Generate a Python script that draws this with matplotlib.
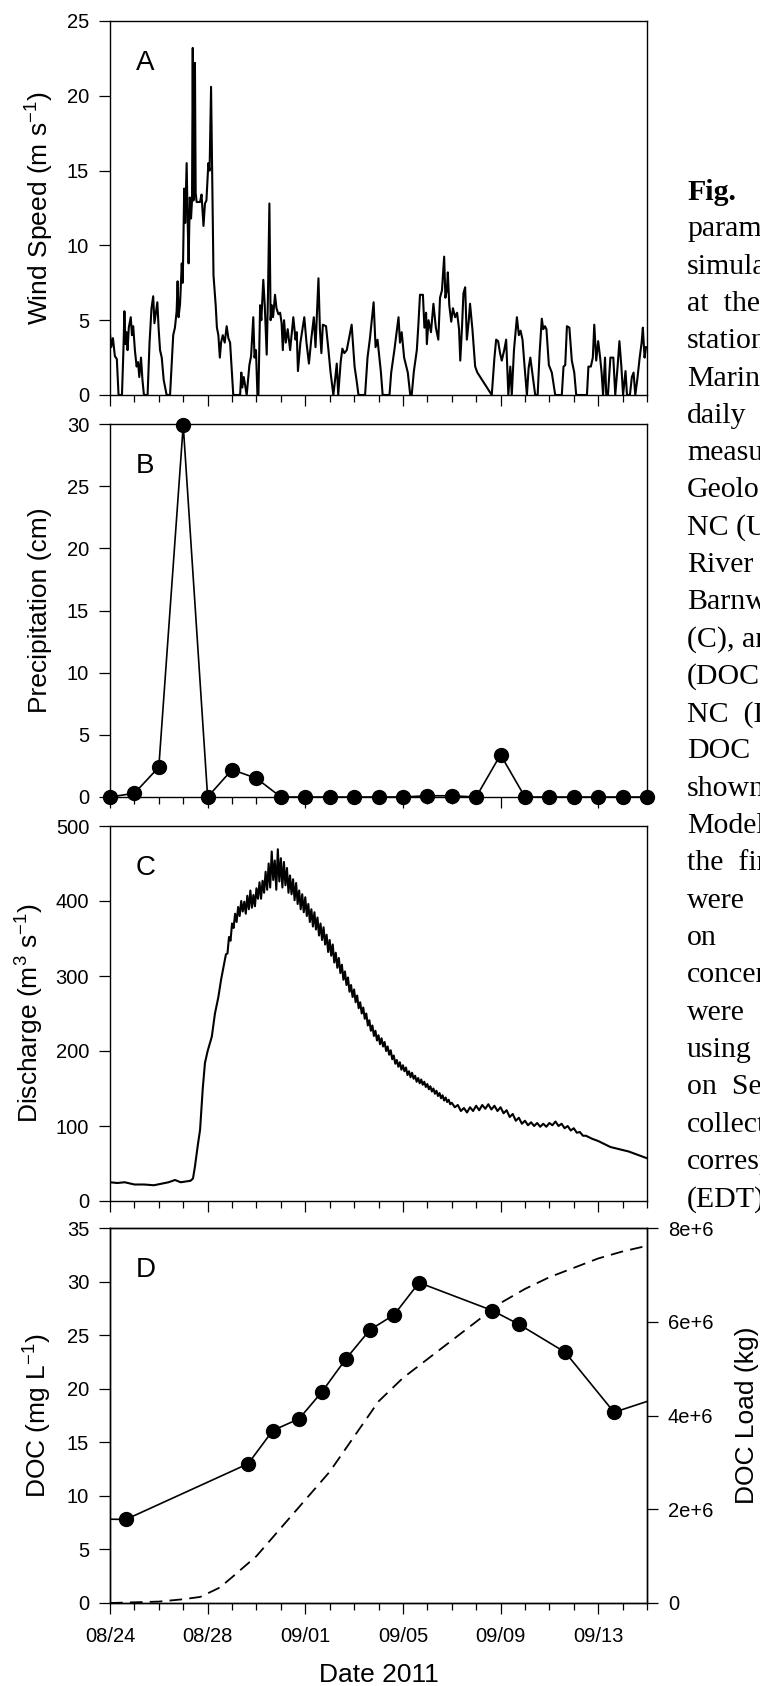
import matplotlib
matplotlib.use("Agg")
import matplotlib.pyplot as plt
import numpy as np
from matplotlib.ticker import MultipleLocator

plt.rcParams['font.family'] = ['Liberation Sans', 'DejaVu Sans']
plt.rcParams['mathtext.default'] = 'regular'

# x axis is days since 08/24/2011 00:00
date_ticks = [0, 4, 8, 12, 16, 20]
date_labels = ['08/24', '08/28', '09/01', '09/05', '09/09', '09/13']

# A - wind speed (m/s)
wind_day = [0.0, 0.05, 0.12, 0.2, 0.28, 0.35, 0.49, 0.55, 0.59, 0.63, 0.68, 0.72, 0.77, 0.85, 0.9, 0.95,
            1.02, 1.09, 1.15, 1.2, 1.27, 1.33, 1.39, 1.54, 1.62, 1.7, 1.77, 1.82, 1.87, 1.94, 1.99,
            2.05, 2.12, 2.2, 2.32, 2.46, 2.59, 2.66, 2.73, 2.77, 2.81, 2.87, 2.94, 2.98,
            3.04, 3.08, 3.14, 3.18, 3.22, 3.27, 3.32, 3.36, 3.39, 3.42, 3.45, 3.48, 3.51, 3.55, 3.69,
            3.75, 3.83, 3.89, 3.95, 4.03, 4.08, 4.14, 4.19, 4.24, 4.33, 4.38, 4.44, 4.5, 4.55, 4.62,
            4.7, 4.78, 4.85, 4.92, 5.05, 5.33, 5.38, 5.42, 5.48, 5.6, 5.71, 5.78, 5.87, 5.92, 5.98,
            6.04, 6.08, 6.15, 6.2, 6.28, 6.34, 6.42, 6.47, 6.53, 6.58, 6.63, 6.68, 6.76, 6.82, 6.9,
            6.97, 7.03, 7.08, 7.13, 7.2, 7.28, 7.38, 7.51, 7.6, 7.65, 7.7, 7.8, 7.96, 8.05, 8.15,
            8.25, 8.35, 8.42, 8.54, 8.6, 8.66, 8.72, 8.85, 8.95, 9.03, 9.15, 9.22, 9.29, 9.35, 9.45,
            9.52, 9.6, 9.7, 9.9, 10.02, 10.1, 10.18, 10.45, 10.55, 10.65, 10.8, 10.88, 10.96, 11.1,
            11.17, 11.45, 11.52, 11.65, 11.82, 11.88, 11.95, 12.05, 12.2, 12.3, 12.36, 12.45, 12.57,
            12.63, 12.7, 12.82, 12.88, 12.95, 12.98, 13.05, 13.15, 13.25, 13.35, 13.45, 13.52, 13.6,
            13.69, 13.74, 13.8, 13.84, 13.9, 13.98, 14.05, 14.14, 14.22, 14.3, 14.35, 14.42, 14.48,
            14.55, 14.62, 14.7, 14.75, 14.85, 14.96, 15.05, 15.64, 15.75, 15.82, 15.9, 15.98, 16.05,
            16.15, 16.23, 16.32, 16.4, 16.46, 16.55, 16.67, 16.75, 16.82, 16.9, 16.98, 17.08, 17.15,
            17.22, 17.3, 17.42, 17.52, 17.6, 17.69, 17.75, 17.82, 17.88, 17.98, 18.1, 18.24, 18.51,
            18.58, 18.65, 18.72, 18.82, 18.92, 19.02, 19.1, 19.54, 19.6, 19.7, 19.78, 19.84, 19.92,
            20.0, 20.08, 20.14, 20.2, 20.28, 20.33, 20.4, 20.5, 20.62, 20.7, 20.8, 20.87, 20.95,
            21.02, 21.12, 21.18, 21.3, 21.38, 21.45, 21.52, 21.6, 21.7, 21.78, 21.83, 21.9, 21.96]
wind_speed = [4.1, 3.2, 3.8, 2.6, 2.4, 0.0, 0.0, 3.0, 5.6, 3.4, 4.2, 3.0, 4.5, 5.2, 4.0, 4.6,
              3.0, 1.9, 2.2, 1.2, 2.5, 1.0, 0.0, 0.0, 3.5, 5.8, 6.6, 4.8, 5.4, 6.2, 4.5,
              3.0, 2.5, 1.0, 0.0, 0.0, 4.0, 4.5, 5.6, 7.6, 5.2, 6.1, 8.8, 7.5,
              13.8, 11.5, 15.5, 11.8, 8.8, 13.2, 11.8, 13.0, 23.2, 13.0, 14.0, 22.2, 13.5, 12.9, 12.9,
              13.4, 11.3, 12.8, 13.0, 15.5, 15.0, 20.6, 14.0, 8.0, 6.0, 4.5, 4.0, 2.5, 3.5, 4.0,
              3.5, 4.6, 3.8, 3.5, 0.0, 0.0, 1.5, 0.5, 1.2, 0.0, 2.0, 2.6, 5.2, 2.5, 3.0,
              0.0, 0.0, 6.0, 5.0, 7.7, 6.0, 2.7, 6.5, 12.8, 5.0, 6.0, 5.2, 6.7, 5.8, 5.4,
              5.5, 4.8, 3.0, 5.0, 3.5, 4.4, 3.0, 5.2, 3.7, 4.2, 1.6, 3.5, 5.2, 3.5, 2.1,
              3.8, 5.2, 3.2, 7.8, 4.4, 2.8, 4.7, 4.6, 3.0, 1.6, 0.0, 1.0, 2.1, 0.0, 2.2,
              3.1, 2.8, 3.0, 4.7, 1.9, 1.0, 0.0, 0.0, 2.5, 3.8, 6.2, 3.2, 3.7, 1.5,
              0.0, 0.0, 1.5, 3.0, 5.2, 3.5, 4.2, 2.5, 1.5, 0.0, 0.0, 1.6, 3.0,
              4.6, 6.7, 6.7, 4.5, 5.5, 3.4, 5.0, 4.2, 6.1, 4.5, 3.7, 6.5, 7.0,
              9.25, 6.5, 7.0, 8.2, 6.0, 4.9, 5.8, 5.2, 5.5, 4.4, 2.3, 4.5, 6.8,
              7.2, 3.7, 5.0, 6.1, 4.35, 1.9, 1.5, 0.0, 2.5, 3.7, 3.6, 2.8, 2.3,
              3.0, 3.7, 0.0, 1.9, 0.0, 3.0, 5.2, 4.0, 4.3, 3.7, 2.0, 0.0, 1.8,
              2.5, 1.5, 0.0, 0.0, 2.8, 5.1, 4.4, 4.6, 4.4, 2.0, 1.5, 0.0, 0.0,
              1.9, 2.0, 4.6, 4.5, 2.3, 1.5, 0.0, 0.0, 1.9, 1.9, 2.5, 4.7, 2.3,
              3.6, 2.5, 1.5, 0.0, 2.5, 0.0, 0.0, 2.5, 2.5, 0.0, 2.0, 3.6, 1.9,
              0.0, 1.6, 0.0, 0.0, 1.2, 1.5, 0.0, 1.0, 2.5, 3.5, 4.5, 2.5, 3.2]

# B - daily precipitation (cm)
precip_day = list(range(23))
precip_cm = [0, 0.3, 2.4, 29.9, 0, 2.2, 1.5, 0, 0, 0, 0, 0, 0, 0.1, 0.1, 0, 3.4,
             0, 0, 0, 0, 0, 0]

# C - discharge (m3/s): baseflow + rising limb, noisy record (90 min / 3 h), smooth tail
q_rise_day = [0, 0.3, 0.6, 1.0, 1.4, 1.8, 2.1, 2.4, 2.66, 2.9, 3.1, 3.3, 3.4, 3.48, 3.6, 3.69,
              3.8, 3.89, 4.0, 4.17, 4.3, 4.44, 4.55, 4.65]
q_rise = [25, 24, 25, 22, 22, 21, 23, 25, 28, 25, 26, 27, 30, 46, 75, 95,
          150, 184, 200, 219, 250, 272, 295, 312]
q_fast_start, q_fast_step = 4.75, 0.0625
q_fast = [329, 330, 352, 347, 370, 364, 383, 372, 392, 380, 400, 386, 399, 383, 407, 389,
          414, 391, 408, 393, 417, 403, 425, 403, 427, 411, 439, 415, 450, 418, 466, 428,
          454, 415, 469, 426, 457, 418, 452, 421, 444, 411, 434, 409, 429, 401, 424, 396,
          414, 389, 409, 385, 405, 380, 396, 372, 389, 366, 385, 362, 378, 354, 370, 348,
          365, 342, 355, 332, 348, 327, 342, 318, 331, 311, 324, 304, 315, 295, 306, 288,
          298, 279, 288, 272, 282, 265, 274, 257, 265, 250, 258, 243, 250, 234, 241, 227,
          234, 220, 227, 214, 221, 209, 217, 206, 212, 200, 206, 195, 201, 189, 194, 183,
          188, 179, 185, 175, 181, 173, 178, 168, 173, 165, 171, 163, 167, 159, 164, 157,
          162, 155, 159, 152, 156, 149, 153, 146, 150, 143, 147, 140, 144, 137, 141, 134,
          138, 132, 135, 129, 131]
q_slow_start, q_slow_step = 14.125, 0.125
q_slow = [125, 128, 120, 124, 118, 125, 120, 127, 121, 128, 123, 129, 122, 127, 120, 125,
          117, 121, 112, 116, 107, 111, 103, 107, 101, 105, 100, 104, 99, 103, 99, 104,
          101, 106, 100, 103, 97, 100, 94, 97, 91, 92, 87, 87]
q_tail_day = [19.75, 20.0, 20.25, 20.5, 20.75, 21.0, 21.25, 21.5, 21.75, 22.0]
q_tail = [83, 80, 76, 72, 70, 68, 66, 63, 60, 57]

# D - DOC concentration (mg/L) and cumulative DOC load (kg)
doc_day = [-1.0, 0.65, 5.66, 6.67, 7.75, 8.68, 9.67, 10.65, 11.64, 12.66, 15.66, 16.76, 18.65,
           20.65, 22.65]
doc_mg = [7.85, 7.8, 13.0, 16.1, 17.2, 19.7, 22.8, 25.5, 26.9, 29.9, 27.3, 26.0, 23.4, 17.8, 19.3]

load_day = [0, 2, 3, 3.7, 4.5, 5, 6, 7, 8, 9, 10, 11, 12, 13, 14, 15, 16, 17, 18, 19, 20, 21, 22]
load_kg = [0, 0.03e6, 0.08e6, 0.13e6, 0.33e6, 0.55e6, 1.0e6, 1.6e6, 2.2e6, 2.8e6, 3.55e6,
           4.3e6, 4.8e6, 5.2e6, 5.6e6, 6.0e6, 6.4e6, 6.7e6, 6.95e6, 7.15e6, 7.35e6, 7.5e6, 7.62e6]
load_ticks = [0, 2e6, 4e6, 6e6, 8e6]
load_tick_labels = ['0', '2e+6', '4e+6', '6e+6', '8e+6']

caption_lines = ['Fig.', 'parameters', 'simulated', 'at  the', 'station', 'Marine', 'daily',
                 'measured', 'Geological', 'NC (USGS', 'River', 'Barnwell', '(C), and', '(DOC)',
                 'NC  (D)', 'DOC', 'shown', 'Model', 'the  first', 'were', 'on', 'concentrations',
                 'were', 'using', 'on  Sept', 'collected', 'corresponding', '(EDT).']

q_day = (q_rise_day
         + list(q_fast_start + q_fast_step * np.arange(len(q_fast)))
         + list(q_slow_start + q_slow_step * np.arange(len(q_slow)))
         + q_tail_day)
q_cms = q_rise + q_fast + q_slow + q_tail

W, H = 760, 1686
fig = plt.figure(figsize=(W / 100, H / 100), dpi=100)


def rect(top, bottom):
    return [110 / W, 1 - bottom / H, 537 / W, (bottom - top) / H]


def style(ax, ymax, ystep, letter, label, labelx):
    ax.set_xlim(0, 22)
    ax.set_ylim(0, ymax)
    ax.yaxis.set_major_locator(MultipleLocator(ystep))
    ax.set_xticks(date_ticks)
    ax.xaxis.set_minor_locator(MultipleLocator(1))
    ax.tick_params(which='major', direction='out', length=8, width=0.9, labelsize=14.5, pad=7)
    ax.tick_params(which='minor', direction='out', length=5, width=0.9)
    ax.tick_params(top=False, right=False)
    for s in ax.spines.values():
        s.set_linewidth(1.0)
    ax.text(0.048, 0.888, letter, transform=ax.transAxes, fontsize=20, ha='left', va='center')
    ax.set_ylabel(label, fontsize=19, va='center')
    ax.yaxis.set_label_coords(labelx, 0.5)


axA = fig.add_axes(rect(21, 395))
axA.plot(wind_day, wind_speed, color='k', lw=1.5)
style(axA, 25, 5, 'A', 'Wind Speed (m s$^{-1}$)', -0.130)
axA.tick_params(labelbottom=False)

axB = fig.add_axes(rect(424, 797))
axB.plot(precip_day, precip_cm, '-o', color='k', ms=10, lw=1.2, clip_on=False, zorder=5)
style(axB, 30, 5, 'B', 'Precipitation (cm)', -0.130)
axB.tick_params(labelbottom=False)

axC = fig.add_axes(rect(826, 1201))
axC.plot(q_day, q_cms, color='k', lw=1.5)
style(axC, 500, 100, 'C', 'Discharge (m$^{3}$ s$^{-1}$)', -0.149)
axC.tick_params(labelbottom=False)

axD = fig.add_axes(rect(1228, 1603))
axD.plot(doc_day, doc_mg, '-o', color='k', ms=10, lw=1.2)
style(axD, 35, 5, 'D', 'DOC (mg L$^{-1}$)', -0.134)
axD.set_xticklabels(date_labels)
axD.tick_params(axis='x', pad=9)
axD.set_xlabel('Date 2011', fontsize=19, va='center')
axD.xaxis.set_label_coords(0.5, -0.192)

ax2 = axD.twinx()
ax2.plot(load_day, load_kg, color='k', lw=1.3, dashes=(7, 4))
ax2.set_xlim(0, 22)
ax2.set_ylim(0, 8e6)
ax2.set_yticks(load_ticks)
ax2.set_yticklabels(load_tick_labels)
ax2.tick_params(direction='out', length=8, width=0.9, labelsize=14.5, pad=7)
for s in ax2.spines.values():
    s.set_linewidth(1.0)
ax2.set_ylabel('DOC Load (kg)', fontsize=19, va='center')
ax2.yaxis.set_label_coords((747 - 110) / 537, 0.5)

for i, line in enumerate(caption_lines):
    fig.text(687 / W, 1 - (192 + i * 37.3) / H, line, fontsize=21.5, va='center', ha='left',
             family=['Liberation Serif', 'DejaVu Serif'],
             weight='bold' if i == 0 else 'normal')

fig.savefig('out.png', dpi=100)
